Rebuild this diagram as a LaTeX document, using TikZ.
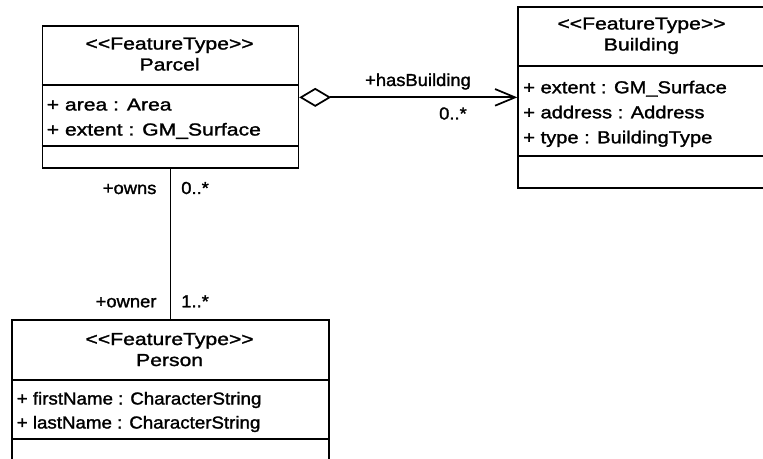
\documentclass[tikz,border=0pt]{standalone}
\usepackage{fontspec}
\newfontfamily\umlfont{Liberation Sans}[FakeStretch=1.22, FakeBold=1.5]
\newfontfamily\bldfont{Liberation Sans}[FakeStretch=1.16, FakeBold=1.5]
\newfontfamily\perfont{Liberation Sans}[FakeStretch=1.08, FakeBold=1.5]
\newfontfamily\lblfont{Liberation Sans}[FakeStretch=1.06, FakeBold=1.5]
\usetikzlibrary{arrows.meta}
\begin{document}
\begin{tikzpicture}[x=0.75pt,y=-0.75pt,
  box/.style={draw, line width=1.3pt, inner sep=0pt, anchor=north west},
  divider/.style={line width=1.3pt},
  umltxt/.style={font=\umlfont\fontsize{13pt}{15pt}\selectfont, inner sep=0pt},
  lbltxt/.style={font=\lblfont\fontsize{13pt}{15pt}\selectfont, inner sep=0pt},
  ctext/.style={umltxt, anchor=base},
  ltext/.style={umltxt, anchor=base west},
  btext/.style={ltext, font=\bldfont\fontsize{13pt}{15pt}\selectfont},
  ptext/.style={ltext, font=\perfont\fontsize{13pt}{15pt}\selectfont},
  clabel/.style={lbltxt, anchor=base},
  llabel/.style={lbltxt, anchor=base west},
  rlabel/.style={lbltxt, anchor=base east},
  conn/.style={line width=1.3pt}]
\useasboundingbox (0,0) rectangle (763,459);
\clip (0,0) rectangle (763,459);

% Parcel
\node[box, minimum width=0.75*255.8pt, minimum height=0.75*142pt] (parcel) at (41.7,25.5) {};
\draw[divider] (parcel.west |- 0,85) -- (parcel.east |- 0,85);
\draw[divider] (parcel.west |- 0,146) -- (parcel.east |- 0,146);
\node[ctext] (parcelSt) at (169.6,49.5) {<\kern0pt<FeatureType>\kern0pt>};
\node[ctext] (parcelNm) at (169.6,70.5) {Parcel};
\node[ltext] (parcelA1) at (46.5,110.5) {+ area : Area};
\node[ltext] (parcelA2) at (46.5,135.5) {+ extent : GM\_Surface};

% Building
\node[box, minimum width=0.75*249pt, minimum height=0.75*181pt] (building) at (517.3,6) {};
\draw[divider] (building.west |- 0,66) -- (building.east |- 0,66);
\draw[divider] (building.west |- 0,156) -- (building.east |- 0,156);
\node[ctext] (buildingSt) at (641.5,29.5) {<\kern0pt<FeatureType>\kern0pt>};
\node[ctext] (buildingNm) at (641.5,50.5) {Building};
\node[btext] (buildingA1) at (523,93.3) {+ extent : GM\_Surface};
\node[btext] (buildingA2) at (523,118.3) {+ address : Address};
\node[btext] (buildingA3) at (523,143.3) {+ type : BuildingType};

% Person
\node[box, minimum width=0.75*317.3pt, minimum height=0.75*160pt] (person) at (11,319) {};
\draw[divider] (person.west |- 0,380) -- (person.east |- 0,380);
\draw[divider] (person.west |- 0,439) -- (person.east |- 0,439);
\node[ctext] (personSt) at (169.6,345) {<\kern0pt<FeatureType>\kern0pt>};
\node[ctext] (personNm) at (169.6,366) {Person};
\node[ptext] (personA1) at (16.5,404.5) {+ firstName : CharacterString};
\node[ptext] (personA2) at (16.5,428.5) {+ lastName : CharacterString};

% Aggregation Parcel -> Building
\draw[conn, {Diamond[open, length=24pt, width=14.25pt]}-{Straight Barb[length=15pt, width=12.5pt]}]
  (parcel.east) -- (parcel.east -| building.west);
\node[clabel] (hasB) at (418,86) {+hasBuilding};
\node[rlabel] (hasBm) at (467,119.5) {0..*};

% Association Parcel -- Person
\draw[conn] (parcel.south) -- (parcel.south |- person.north);
\node[rlabel] (owns) at (156.7,194) {+owns};
\node[llabel] (ownsM) at (181,194) {0..*};
\node[rlabel] (owner) at (156.7,307.3) {+owner};
\node[llabel] (ownerM) at (181,307.3) {1..*};
\end{tikzpicture}
\end{document}
